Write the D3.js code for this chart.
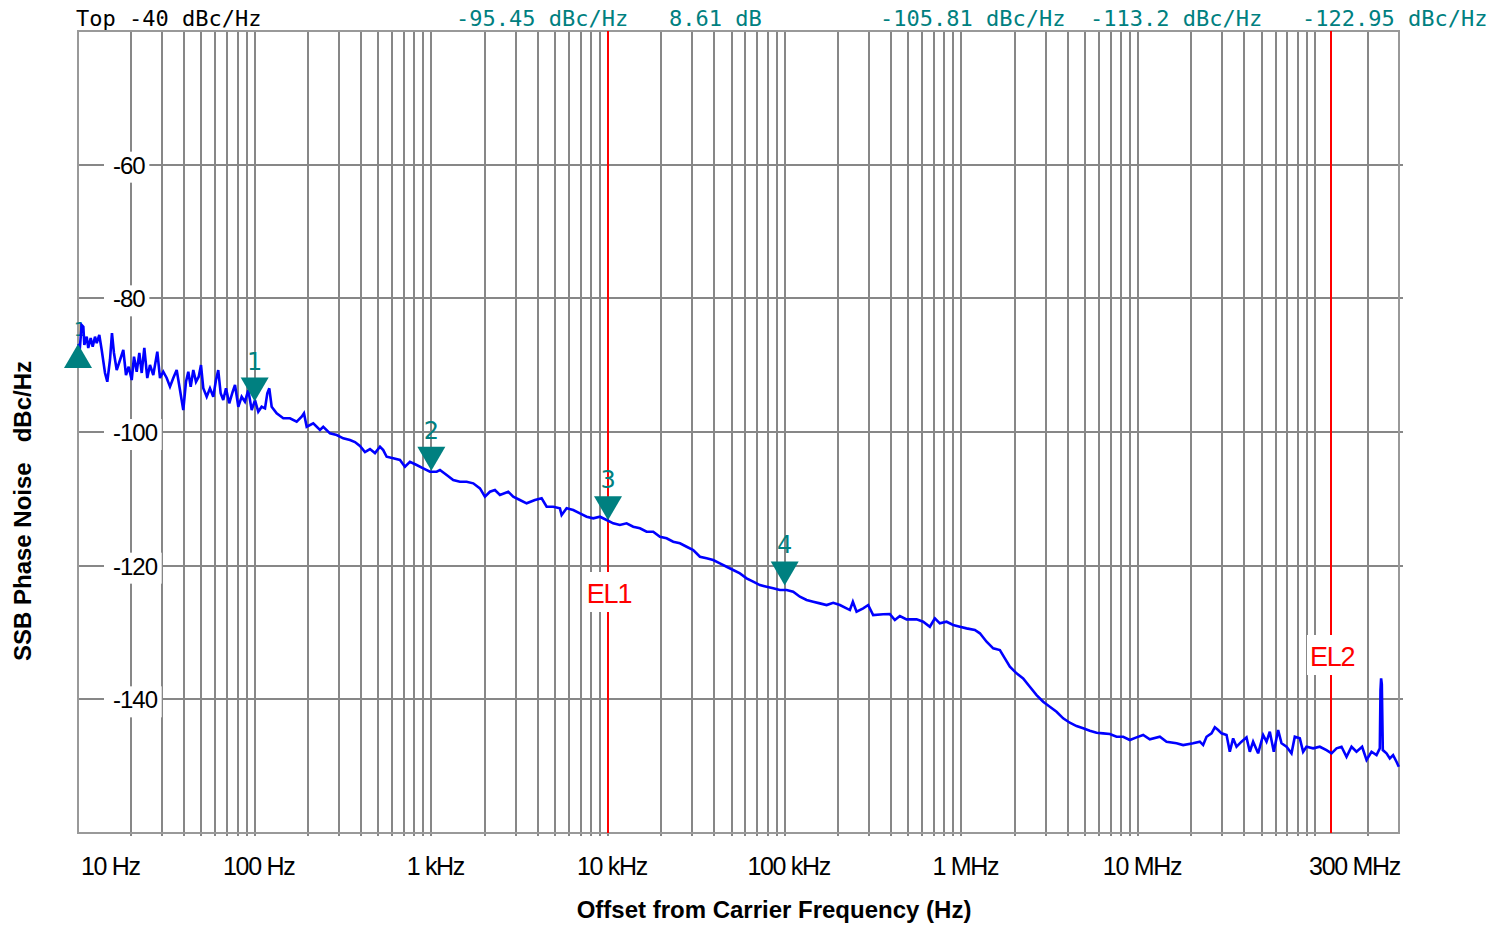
<!DOCTYPE html>
<html><head><meta charset="utf-8">
<script src="https://cdn.jsdelivr.net/npm/d3@7"></script>
<style>body{margin:0;background:#fff}svg{display:block}</style>
</head><body>
<svg id="c" width="1509" height="927"></svg>
<script>
// ---------- data ----------
const traceHz = [10.0,10.26,10.49,10.72,10.86,11.20,11.43,11.80,12.11,12.48,12.76,13.20,13.62,14.22,14.65,15.17,15.57,15.98,16.56,17.29,18.05,18.69,19.36,20.14,20.75,21.49,22.24,22.94,23.73,24.67,25.55,26.68,28.11,29.12,30.39,31.77,33.17,34.62,36.19,37.78,39.44,40.86,42.1,43.44,44.94,46.55,48.22,49.68,51.19,53.51,55.85,58.3,60.4,62.2,64.2,66.4,68.8,71.8,75.1,77.4,80.8,84.4,88.1,92.0,96.2,100.4,104.8,109.5,114.4,117.9,121.0,124.8,133.2,145.2,158.4,172.9,184.5,190.1,197.0,214.6,234.2,244.5,266.8,291.2,317.3,346.2,369.6,394.4,421.0,449.4,479.6,511.9,534.2,558.5,608.6,664.2,708.9,756.8,825.8,900.0,982.0,1071.5,1118.7,1221,1330,1452,1584,1727,1884,2011,2146,2290,2445,2724,2907,3172,3462,3858,4210,4494,4897,5343,5463,5830,6356,6934,7568,8248,9000,9820,10700,11675,12745,13887,15155,16538,18025,19670,21460,23390,25530,27860,30360,33130,36140,39390,42990,46910,51110,55790,60870,66330,72380,79000,86100,93940,102500,111700,121900,133000,145000,158200,172700,188200,205400,233900,243200,255200,278200,296900,316800,360900,393900,420400,448700,489600,557900,607900,663300,707900,755400,824600,898500,980600,1070000,1192000,1273000,1389000,1514000,1652000,1763000,1882000,2053000,2237000,2441000,2665000,2904000,3168000,3458000,3769000,4111000,4487000,4891000,5337000,5824000,6347000,6925000,7556000,8235000,8985000,9806000,10690000,11660000,13290000,14500000,16520000,18000000,20500000,22380000,23360000,24420000,26060000,27210000,28410000,29700000,31700000,33070000,34540000,36100000,38520000,41110000,42920000,44810000,47830000,51050000,53360000,55700000,58680000,62080000,64890000,69260000,73900000,77150000,82360000,86000000,89870000,97950000,106900000,116600000,124500000,132900000,141800000,151400000,161600000,172400000,185500000,196500000,209700000,223800000,233600000,235700000,237600000,239800000,242900000,254900000,266100000,277800000,290400000,299200000];
const traceDbc = [-86.84,-87.24,-83.99,-84.25,-86.98,-85.74,-87.43,-85.94,-87.24,-85.74,-86.69,-85.49,-87.73,-91.17,-92.48,-89.23,-85.19,-88.18,-90.73,-89.23,-87.73,-91.47,-90.23,-92.22,-88.74,-90.98,-88.18,-91.17,-87.43,-91.92,-89.98,-91.47,-87.99,-91.92,-90.98,-91.92,-93.22,-91.92,-90.73,-93.72,-96.71,-92.48,-90.98,-93.22,-90.73,-92.48,-91.73,-89.98,-93.46,-94.72,-93.46,-94.72,-92.22,-90.73,-94.21,-95.22,-93.46,-95.71,-93.97,-92.97,-96.22,-94.72,-95.47,-93.72,-96.71,-95.22,-96.97,-96.22,-96.46,-94.21,-93.46,-96.22,-97.21,-97.95,-97.95,-98.46,-97.71,-97.21,-99.21,-98.70,-99.70,-99.21,-100.20,-100.45,-100.95,-101.20,-101.5,-102.10,-103.0,-102.55,-103.15,-102.20,-102.70,-103.70,-103.94,-104.19,-105.20,-104.45,-104.94,-105.43,-105.94,-105.94,-105.69,-106.44,-107.19,-107.44,-107.44,-107.68,-108.43,-109.68,-108.94,-108.68,-109.43,-108.94,-109.68,-110.18,-110.67,-110.18,-109.92,-111.18,-111.18,-111.42,-112.42,-111.42,-111.67,-112.17,-112.68,-112.92,-112.68,-113.17,-113.66,-113.92,-113.66,-114.17,-114.41,-114.92,-114.92,-115.67,-115.91,-116.42,-116.66,-117.17,-117.66,-118.66,-118.90,-119.16,-119.65,-120.16,-120.65,-121.15,-121.89,-122.40,-122.90,-123.15,-123.39,-123.65,-123.65,-123.90,-124.65,-125.14,-125.40,-125.64,-125.89,-125.55,-125.89,-126.64,-125.40,-126.89,-126.38,-125.89,-127.39,-127.28,-127.24,-128.13,-127.54,-128.03,-128.03,-128.39,-129.14,-127.88,-128.63,-128.39,-128.88,-129.14,-129.38,-129.63,-130.12,-131.38,-132.37,-132.62,-133.86,-135.12,-136.11,-136.86,-138.12,-139.36,-140.36,-141.11,-141.86,-142.84,-143.50,-144.0,-144.34,-144.70,-145.0,-145.09,-145.19,-145.60,-145.60,-146.09,-145.69,-145.34,-145.99,-145.60,-146.34,-146.58,-146.84,-146.58,-146.34,-146.84,-145.60,-145.09,-144.19,-144.59,-145.09,-145.34,-147.84,-145.84,-147.09,-146.34,-145.69,-147.84,-146.34,-148.08,-145.34,-146.34,-144.85,-147.84,-144.59,-146.58,-147.09,-148.08,-145.60,-145.84,-147.84,-147.09,-147.33,-147.09,-147.59,-148.08,-147.33,-147.09,-148.59,-147.09,-147.84,-147.09,-149.08,-147.84,-148.34,-147.33,-138.61,-136.86,-137.71,-147.59,-148.08,-148.83,-148.34,-149.34,-150.08];

const markerHz = [100, 1000, 10000, 100000];
const markerDbc = [-95.45, -105.81, -113.2, -122.95];
const markerNames = ["1", "2", "3", "4"];
const refMarkerHz = 10;
const refMarkerDbc = -86.84;
const refMarkerName = "1";
const limitHz = [10000, 1.24e8];
const limitNames = ["EL1", "EL2"];
const xTickHz = [10, 100, 1e3, 1e4, 1e5, 1e6, 1e7, 3e8];
const xTickLabels = ["10 Hz", "100 Hz", "1 kHz", "10 kHz", "100 kHz", "1 MHz", "10 MHz", "300 MHz"];
const yTicks = [-60, -80, -100, -120, -140];
const yTickLabels = ["-60", "-80", "-100", "-120", "-140"];
const headerTexts = ["Top -40 dBc/Hz", "-95.45 dBc/Hz", "8.61 dB", "-105.81 dBc/Hz", "-113.2 dBc/Hz", "-122.95 dBc/Hz"];

// ---------- layout ----------
const W = 1509, H = 927;
const L = 78, R = 1399, T = 31, B = 833;
const TEAL = "#008080", GRID = "#878787";
const headerX = [76, 456, 669, 880, 1090, 1302];
const limitLabelY = [603, 666];

const svg = d3.select("#c");
svg.append("rect").attr("width", W).attr("height", H).attr("fill", "#fff");

const x = d3.scaleLog().domain([10, 3e8]).range([L, R]);
const y = d3.scaleLinear().domain([-160, -40]).range([B, T]);
const sx = v => Math.round(x(v));
const sy = v => Math.round(y(v));

// grid values: every 1..9 x decade inside domain
const gridHz = [];
for (let d = 10; d <= 1e8; d *= 10) {
  for (let k = 1; k <= 9; k++) {
    const v = k * d;
    if (v > 10 && v < 3e8) gridHz.push(v);
  }
}
const g = svg.append("g");
g.selectAll("line.v").data(gridHz).join("line")
  .attr("x1", d => sx(d)).attr("x2", d => sx(d))
  .attr("y1", T).attr("y2", B + 3)
  .attr("stroke", GRID).attr("stroke-width", 2);
g.selectAll("line.h").data(yTicks).join("line")
  .attr("x1", L).attr("x2", R + 4)
  .attr("y1", d => sy(d)).attr("y2", d => sy(d))
  .attr("stroke", GRID).attr("stroke-width", 2);
g.append("rect").attr("x", L).attr("y", T).attr("width", R - L).attr("height", B - T)
  .attr("fill", "none").attr("stroke", "#999").attr("stroke-width", 2);

// limit lines
g.selectAll("line.el").data(limitHz).join("line")
  .attr("x1", d => sx(d)).attr("x2", d => sx(d))
  .attr("y1", T).attr("y2", B)
  .attr("stroke", "#ff0000").attr("stroke-width", 2);

// y tick labels with white boxes
const tickFont = "'Liberation Sans', Arial, sans-serif";
yTicks.forEach((v, i) => {
  const bg = svg.append("rect").attr("fill", "#fff");
  const t = svg.append("text").attr("x", 113).attr("y", y(v) + 9)
    .attr("font-family", tickFont).attr("font-size", 24).attr("letter-spacing", -1)
    .attr("fill", "#000").text(yTickLabels[i]);
  const bb = t.node().getBBox();
  bg.attr("x", 104).attr("y", y(v) - 13).attr("width", bb.x + bb.width - 104 + 4).attr("height", 31);
});

// x tick labels
xTickHz.forEach((v, i) => {
  let anchor = "middle", px = x(v) + 4;
  if (i === 0) { anchor = "start"; px = x(v) + 3; }
  if (i === xTickHz.length - 1) { anchor = "end"; px = x(v) + 1; }
  svg.append("text").attr("x", px).attr("y", 875)
    .attr("text-anchor", anchor)
    .attr("font-family", tickFont).attr("font-size", 25).attr("letter-spacing", -1.3)
    .attr("fill", "#000").text(xTickLabels[i]);
});

// limit labels
limitHz.forEach((v, i) => {
  const bg = svg.append("rect").attr("fill", "#fff");
  const t = svg.append("text").attr("x", x(v) + 1).attr("y", limitLabelY[i])
    .attr("text-anchor", "middle")
    .attr("font-family", tickFont).attr("font-size", 27).attr("letter-spacing", -1.2)
    .attr("fill", "#ff0000").text(limitNames[i]);
  const bb = t.node().getBBox();
  bg.attr("x", bb.x - 3).attr("y", limitLabelY[i] - 31).attr("width", bb.width + 6).attr("height", 40);
});

// axis titles
svg.append("text").attr("x", 774).attr("y", 918).attr("text-anchor", "middle")
  .attr("font-family", tickFont).attr("font-weight", "bold").attr("font-size", 24)
  .attr("fill", "#000").text("Offset from Carrier Frequency (Hz)");
svg.append("text").attr("transform", "translate(31,511) rotate(-90)")
  .attr("text-anchor", "middle").style("white-space", "pre")
  .attr("font-family", tickFont).attr("font-weight", "bold").attr("font-size", 24)
  .attr("fill", "#000").text("SSB Phase Noise   dBc/Hz");

// header texts
headerTexts.forEach((s, i) => {
  svg.append("text").attr("x", headerX[i]).attr("y", 26)
    .style("white-space", "pre")
    .attr("font-family", "'DejaVu Sans Mono', monospace").attr("font-size", 22)
    .attr("fill", i === 0 ? "#000" : TEAL).text(s);
});

// reference marker label (drawn under trace)
const refTip = y(refMarkerDbc);
svg.append("text").attr("x", x(refMarkerHz) + 2).attr("y", refTip - 8)
  .attr("text-anchor", "middle")
  .attr("font-family", "'DejaVu Sans', Verdana, sans-serif").attr("font-size", 20)
  .attr("fill", TEAL).text(refMarkerName);

// trace
const pts = traceHz.map((f, i) => [f, traceDbc[i]]);
svg.append("path").datum(pts)
  .attr("d", d3.line().x(d => x(d[0])).y(d => y(d[1])))
  .attr("fill", "none").attr("stroke", "#0000ff").attr("stroke-width", 2.6)
  .attr("stroke-linejoin", "miter").attr("stroke-miterlimit", 3);

// reference marker triangle (up)
const rx = x(refMarkerHz);
svg.append("path")
  .attr("d", `M${rx - 14},${refTip + 24}L${rx + 14},${refTip + 24}L${rx},${refTip}Z`)
  .attr("fill", TEAL);

// markers (down triangles)
markerHz.forEach((f, i) => {
  const mx = x(f), tip = y(markerDbc[i]);
  svg.append("path")
    .attr("d", `M${mx - 14},${tip - 24}L${mx + 14},${tip - 24}L${mx},${tip}Z`)
    .attr("fill", TEAL);
  svg.append("text").attr("x", mx).attr("y", tip - 32)
    .attr("text-anchor", "middle")
    .attr("font-family", "'DejaVu Sans', Verdana, sans-serif").attr("font-size", 24)
    .attr("fill", TEAL).text(markerNames[i]);
});
</script>
</body></html>
